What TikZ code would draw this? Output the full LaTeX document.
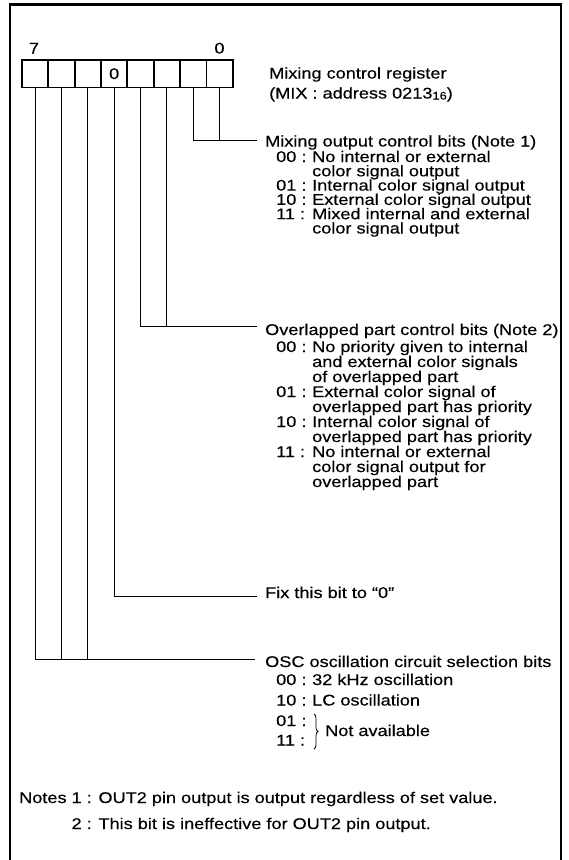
\documentclass[tikz,border=0pt]{standalone}
\usepackage{fontspec}
\setmainfont{Liberation Sans}[FakeStretch=1.17,FakeBold=0.3]
\usetikzlibrary{decorations.pathreplacing}
\begin{document}
\begin{tikzpicture}[x=1pt,y=-1pt,
  txt/.style={anchor=base west, inner sep=0pt, font=\fontsize{15.5}{15.5}\selectfont},
  cell/.style={draw, line width=1.7pt, minimum width=26.3pt, minimum height=27.3pt, inner sep=0pt, font=\fontsize{15.5}{15.5}\selectfont},
  wire/.style={line width=0.9pt},
  frame/.style={line width=2.6pt},
  brc/.style={decorate, decoration={brace, amplitude=4pt}, line width=0.8pt}]
\useasboundingbox (0,0) rectangle (568,860);
\draw[frame] (10,870) -- (10,4.5) -- (561,4.5) -- (561,870);

% register cells
\node[cell] (b7) at (35.17,73.7) {};
\node[cell] (b6) at (61.51,73.7) {};
\node[cell] (b5) at (87.85,73.7) {};
\node[cell] (b4) at (114.19,73.7) {0};
\node[cell] (b3) at (140.53,73.7) {};
\node[cell] (b2) at (166.87,73.7) {};
\node[cell] (b1) at (193.21,73.7) {};
\node[cell] (b0) at (219.55,73.7) {};
\node[txt, anchor=base] (n7) at (34,53.5) {7};
\node[txt, anchor=base] (n0) at (219.5,53.5) {0};

\node[txt] (reg1) at (269,78.5) {Mixing control register};
\node[txt] (reg2) at (269,98.5) {(MIX : address 0213\raisebox{-1pt}{\fontsize{11}{11}\selectfont 16})};

% connectors
\coordinate (jm) at (257,140);
\draw[wire] (b1.south) |- (jm);
\draw[wire] (b0.south) -- (b0.south |- jm);
\coordinate (jo) at (257,326.7);
\draw[wire] (b3.south) |- (jo);
\draw[wire] (b2.south) -- (b2.south |- jo);
\coordinate (jf) at (257,596);
\draw[wire] (b4.south) |- (jf);
\coordinate (js) at (255,659.3);
\draw[wire] (b7.south) |- (js);
\draw[wire] (b6.south) -- (b6.south |- js);
\draw[wire] (b5.south) -- (b5.south |- js);

% mixing output control bits
\node[txt] (mixh) at (265,146.5) {Mixing output control bits (Note 1)};
\node[txt] (mc1) at (276,162) {00 :};
\node[txt] (md1) at (312,162) {No internal or external};
\node[txt] (md1b) at (312,176.3) {color signal output};
\node[txt] (mc2) at (276,190.6) {01 :};
\node[txt] (md2) at (312,190.6) {Internal color signal output};
\node[txt] (mc3) at (276,204.9) {10 :};
\node[txt] (md3) at (312,204.9) {External color signal output};
\node[txt] (mc4) at (276,219.2) {11 :};
\node[txt] (md4) at (312,219.2) {Mixed internal and external};
\node[txt] (md4b) at (312,233.5) {color signal output};

% overlapped part control bits
\node[txt] (ovh) at (265,335) {Overlapped part control bits (Note 2)};
\node[txt] (oc1) at (276,352) {00 :};
\node[txt] (od1) at (312,352) {No priority given to internal};
\node[txt] (od1b) at (312,367) {and external color signals};
\node[txt] (od1c) at (312,382) {of overlapped part};
\node[txt] (oc2) at (276,397) {01 :};
\node[txt] (od2) at (312,397) {External color signal of};
\node[txt] (od2b) at (312,412) {overlapped part has priority};
\node[txt] (oc3) at (276,427) {10 :};
\node[txt] (od3) at (312,427) {Internal color signal of};
\node[txt] (od3b) at (312,442) {overlapped part has priority};
\node[txt] (oc4) at (276,457) {11 :};
\node[txt] (od4) at (312,457) {No internal or external};
\node[txt] (od4b) at (312,472) {color signal output for};
\node[txt] (od4c) at (312,487) {overlapped part};

% fix bit
\node[txt] (fix) at (265,598) {Fix this bit to “0”};

% OSC
\node[txt] (osch) at (265,667) {OSC oscillation circuit selection bits};
\node[txt] (sc1) at (276,685) {00 :};
\node[txt] (sd1) at (312,685) {32 kHz oscillation};
\node[txt] (sc2) at (276,705.5) {10 :};
\node[txt] (sd2) at (312,705.5) {LC oscillation};
\node[txt] (sc3) at (276,726) {01 :};
\node[txt] (sc4) at (276,745.5) {11 :};
\coordinate (bt) at (314,714);
\coordinate (bb) at (314,749);
\draw[brc] (bt) -- (bb);
\node[txt] (na) at (325,736) {Not available};

% notes
\node[txt] (note1) at (19,803) {Notes 1 : OUT2 pin output is output regardless of set value.};
\node[txt] (note2) at (19,829) {\phantom{Notes }2 : This bit is ineffective for OUT2 pin output.};
\end{tikzpicture}
\end{document}
